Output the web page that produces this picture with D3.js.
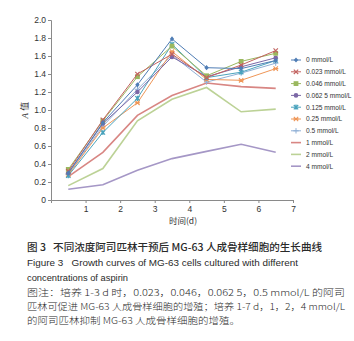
<!DOCTYPE html>
<html>
<head>
<meta charset="utf-8">
<script src="https://cdn.jsdelivr.net/npm/d3@7"></script>
<style>
body { margin:0; background:#fff; }
svg { display:block; }
</style>
</head>
<body>
<div class="chart"></div>
<script>
// data
var days = [1, 2, 3, 4, 5, 6, 7];
var xTicks = [1, 2, 3, 4, 5, 6, 7];
var yTicks = [0, 0.2, 0.4, 0.6, 0.8, 1.0, 1.2, 1.4, 1.6, 1.8, 2.0];
var seriesNames = ["0 mmol/L", "0.023 mmol/L", "0.046 mmol/L", "0.062 5 mmol/L", "0.125 mmol/L",
                   "0.25 mmol/L", "0.5 mmol/L", "1 mmol/L", "2 mmol/L", "4 mmol/L"];
var s0     = [0.30, 0.86, 1.28, 1.79, 1.47, 1.46, 1.55];
var s0023  = [0.32, 0.89, 1.40, 1.62, 1.36, 1.50, 1.66];
var s0046  = [0.34, 0.88, 1.37, 1.71, 1.38, 1.54, 1.63];
var s00625 = [0.30, 0.85, 1.20, 1.59, 1.37, 1.48, 1.58];
var s0125  = [0.27, 0.75, 1.13, 1.73, 1.36, 1.42, 1.55];
var s025   = [0.28, 0.80, 1.08, 1.65, 1.34, 1.33, 1.46];
var s05    = [0.29, 0.82, 1.23, 1.61, 1.31, 1.41, 1.52];
var s1     = [0.26, 0.53, 0.94, 1.16, 1.30, 1.26, 1.24];
var s2     = [0.16, 0.35, 0.88, 1.12, 1.25, 0.98, 1.01];
var s4     = [0.12, 0.17, 0.33, 0.46, 0.54, 0.62, 0.53];

var allSeries = [s0, s0023, s0046, s00625, s0125, s025, s05, s1, s2, s4];
var colors = ["#4f7db5", "#c2625f", "#9bb85f", "#7c68a6", "#4aa3bd",
              "#ef9657", "#8fb0d6", "#d88683", "#bcd296", "#a597c6"];
var markers = ["diamond", "x", "square", "circle", "star", "asterisk", "plus", null, null, null];

var w = 354, h = 341;
var svg = d3.select(".chart").append("svg").attr("width", w).attr("height", h);

var xScale = d3.scaleLinear().domain([0, 7]).range([51, 293]);
var yScale = d3.scaleLinear().domain([0, 2]).range([200, 20]);

// axes
var yAxis = d3.axisLeft(yScale).tickValues(yTicks).tickSize(3).tickPadding(2)
              .tickFormat(function(d) { return d === 0 ? "0" : d3.format(".1f")(d); });
var xAxis = d3.axisBottom(xScale).tickValues(xTicks).tickSize(3).tickPadding(3)
              .tickFormat(d3.format("d"));

var gy = svg.append("g").attr("transform", "translate(51,0)").call(yAxis);
var gx = svg.append("g").attr("transform", "translate(0,200)").call(xAxis);
[gx, gy].forEach(function(g) {
    g.select(".domain").attr("stroke", "#8a8a8a");
    g.selectAll(".tick line").attr("stroke", "#8a8a8a");
    g.selectAll("text").attr("fill", "#333").style("font-family", "Liberation Sans, Arial, sans-serif").style("font-size", "8.5px");
});

svg.append("text").attr("x", 183).attr("y", 224).attr("text-anchor", "middle")
   .style("font-family", "Noto Sans CJK SC, sans-serif").style("font-size", "8.5px").attr("fill", "#333")
   .text("时间(d)");

var yl = svg.append("text").attr("transform", "translate(28,110) rotate(-90)").attr("text-anchor", "middle")
   .style("font-size", "9px").attr("fill", "#333");
yl.append("tspan").style("font-style", "italic").style("font-family", "Liberation Serif, serif").text("A\u00a0");
yl.append("tspan").style("font-family", "Noto Sans CJK SC, sans-serif").text("值");

var line = d3.line()
    .x(function(d, i) { return xScale(days[i] - 0.5); })
    .y(function(d) { return yScale(d); });

function drawMarker(g, type, x, y, c) {
    var r = 2.2;
    if (type === "diamond") {
        g.append("path").attr("d", `M${x},${y - r - 0.4}L${x + r},${y}L${x},${y + r + 0.4}L${x - r},${y}Z`).attr("fill", c);
    } else if (type === "square") {
        g.append("rect").attr("x", x - 2.4).attr("y", y - 2.4).attr("width", 4.8).attr("height", 4.8).attr("fill", c);
    } else if (type === "circle") {
        g.append("circle").attr("cx", x).attr("cy", y).attr("r", 2.3).attr("fill", c);
    } else if (type === "x") {
        g.append("path").attr("d", `M${x - r},${y - r}L${x + r},${y + r}M${x - r},${y + r}L${x + r},${y - r}`)
         .attr("stroke", c).attr("stroke-width", 1.1);
    } else if (type === "plus") {
        g.append("path").attr("d", `M${x - r - 0.5},${y}L${x + r + 0.5},${y}M${x},${y - r - 0.5}L${x},${y + r + 0.5}`)
         .attr("stroke", c).attr("stroke-width", 1);
    } else if (type === "star") {
        g.append("path").attr("d", `M${x - r},${y - r}L${x + r},${y + r}M${x - r},${y + r}L${x + r},${y - r}M${x},${y - r - 0.4}L${x},${y + r + 0.4}`)
         .attr("stroke", c).attr("stroke-width", 1.2);
        g.append("circle").attr("cx", x).attr("cy", y).attr("r", 1.3).attr("fill", c);
    } else if (type === "asterisk") {
        g.append("path").attr("d", `M${x - r},${y - r}L${x + r},${y + r}M${x - r},${y + r}L${x + r},${y - r}M${x - r - 0.4},${y}L${x + r + 0.4},${y}`)
         .attr("stroke", c).attr("stroke-width", 1.1);
    }
}

// draw heavy inhibitory lines first, then marker series
var order = [9, 8, 7, 6, 5, 4, 3, 2, 1, 0];
order.forEach(function(k) {
    var g = svg.append("g");
    g.append("path").datum(allSeries[k])
        .attr("fill", "none")
        .attr("stroke", colors[k])
        .attr("stroke-width", markers[k] ? 1 : 1.6)
        .attr("d", line);
    if (markers[k]) {
        allSeries[k].forEach(function(v, i) {
            drawMarker(g, markers[k], xScale(days[i] - 0.5), yScale(v), colors[k]);
        });
    }
});

// legend
var legend = svg.append("g");
seriesNames.forEach(function(name, k) {
    var y = 60 + k * 11.8;
    legend.append("line").attr("x1", 291).attr("x2", 301).attr("y1", y).attr("y2", y)
        .attr("stroke", colors[k]).attr("stroke-width", markers[k] ? 1 : 1.6);
    if (markers[k]) drawMarker(legend, markers[k], 296, y, colors[k]);
    legend.append("text").attr("x", 306).attr("y", y + 2.3)
        .style("font-family", "Liberation Sans, Arial, sans-serif").style("font-size", "6.6px")
        .attr("fill", "#333").text(name);
});

// caption
var cap = svg.append("g").attr("fill", "#2a2a2a");
function capLine(txt, y, fam, size, len, weight) {
    var t = cap.append("text").attr("x", 27).attr("y", y)
        .style("font-family", fam).style("font-size", size + "px").style("white-space", "pre").text(txt);
    if (weight) t.style("font-weight", weight);
    if (len) t.attr("textLength", len).attr("lengthAdjust", "spacingAndGlyphs");
    return t;
}
var cjk = "Noto Sans CJK SC, sans-serif";
var lat = "Liberation Sans, Arial, sans-serif";
capLine("图 3\u00a0\u00a0\u00a0不同浓度阿司匹林干预后 MG-63 人成骨样细胞的生长曲线", 251, cjk, 10, 295, 500);
capLine("Figure 3\u00a0\u00a0\u00a0Growth curves of MG-63 cells cultured with different", 266, lat, 9.5, 271);
capLine("concentrations of aspirin", 281, lat, 9.5, 101);
capLine("图注：培养 1-3 d 时，0.023，0.046，0.062 5，0.5 mmol/L 的阿司", 296, cjk, 9, 318, 300);
capLine("匹林可促进 MG-63 人成骨样细胞的增殖；培养 1-7 d，1，2，4 mmol/L", 310, cjk, 9, 318, 300);
capLine("的阿司匹林抑制 MG-63 人成骨样细胞的增殖。", 324, cjk, 9, 213, 300);
</script>
</body>
</html>
